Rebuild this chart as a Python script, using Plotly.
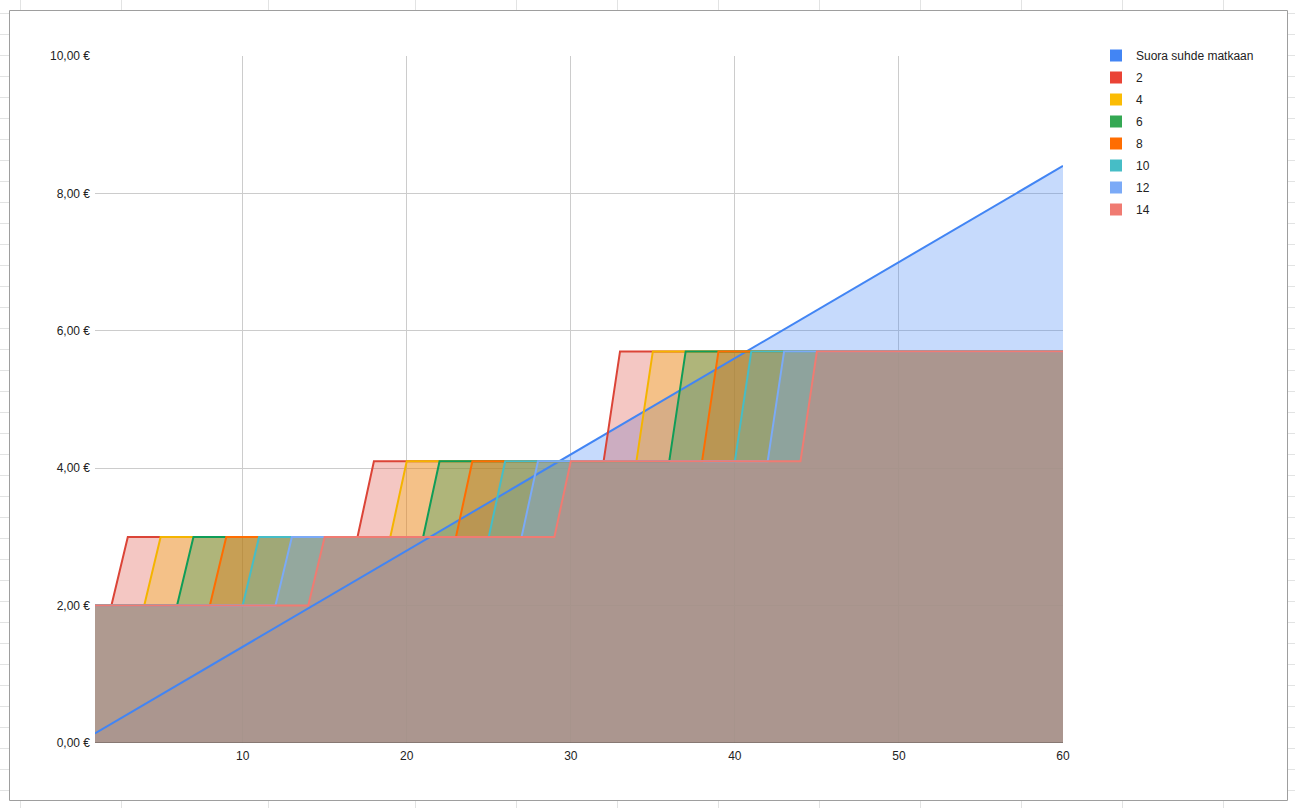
import plotly.graph_objects as go

# ---------------- data ----------------
km = list(range(1, 61))

suora = [0.14, 0.28, 0.42, 0.56, 0.70, 0.84, 0.98, 1.12, 1.26, 1.40,
         1.54, 1.68, 1.82, 1.96, 2.10, 2.24, 2.38, 2.52, 2.66, 2.80,
         2.94, 3.08, 3.22, 3.36, 3.50, 3.64, 3.78, 3.92, 4.06, 4.20,
         4.34, 4.48, 4.62, 4.76, 4.90, 5.04, 5.18, 5.32, 5.46, 5.60,
         5.74, 5.88, 6.02, 6.16, 6.30, 6.44, 6.58, 6.72, 6.86, 7.00,
         7.14, 7.28, 7.42, 7.56, 7.70, 7.84, 7.98, 8.12, 8.26, 8.40]

s2 = [2, 2, 3, 3, 3, 3, 3, 3, 3, 3,
      3, 3, 3, 3, 3, 3, 3, 4.1, 4.1, 4.1,
      4.1, 4.1, 4.1, 4.1, 4.1, 4.1, 4.1, 4.1, 4.1, 4.1,
      4.1, 4.1, 5.7, 5.7, 5.7, 5.7, 5.7, 5.7, 5.7, 5.7,
      5.7, 5.7, 5.7, 5.7, 5.7, 5.7, 5.7, 5.7, 5.7, 5.7,
      5.7, 5.7, 5.7, 5.7, 5.7, 5.7, 5.7, 5.7, 5.7, 5.7]

s4 = [2, 2, 2, 2, 3, 3, 3, 3, 3, 3,
      3, 3, 3, 3, 3, 3, 3, 3, 3, 4.1,
      4.1, 4.1, 4.1, 4.1, 4.1, 4.1, 4.1, 4.1, 4.1, 4.1,
      4.1, 4.1, 4.1, 4.1, 5.7, 5.7, 5.7, 5.7, 5.7, 5.7,
      5.7, 5.7, 5.7, 5.7, 5.7, 5.7, 5.7, 5.7, 5.7, 5.7,
      5.7, 5.7, 5.7, 5.7, 5.7, 5.7, 5.7, 5.7, 5.7, 5.7]

s6 = [2, 2, 2, 2, 2, 2, 3, 3, 3, 3,
      3, 3, 3, 3, 3, 3, 3, 3, 3, 3,
      3, 4.1, 4.1, 4.1, 4.1, 4.1, 4.1, 4.1, 4.1, 4.1,
      4.1, 4.1, 4.1, 4.1, 4.1, 4.1, 5.7, 5.7, 5.7, 5.7,
      5.7, 5.7, 5.7, 5.7, 5.7, 5.7, 5.7, 5.7, 5.7, 5.7,
      5.7, 5.7, 5.7, 5.7, 5.7, 5.7, 5.7, 5.7, 5.7, 5.7]

s8 = [2, 2, 2, 2, 2, 2, 2, 2, 3, 3,
      3, 3, 3, 3, 3, 3, 3, 3, 3, 3,
      3, 3, 3, 4.1, 4.1, 4.1, 4.1, 4.1, 4.1, 4.1,
      4.1, 4.1, 4.1, 4.1, 4.1, 4.1, 4.1, 4.1, 5.7, 5.7,
      5.7, 5.7, 5.7, 5.7, 5.7, 5.7, 5.7, 5.7, 5.7, 5.7,
      5.7, 5.7, 5.7, 5.7, 5.7, 5.7, 5.7, 5.7, 5.7, 5.7]

s10 = [2, 2, 2, 2, 2, 2, 2, 2, 2, 2,
       3, 3, 3, 3, 3, 3, 3, 3, 3, 3,
       3, 3, 3, 3, 3, 4.1, 4.1, 4.1, 4.1, 4.1,
       4.1, 4.1, 4.1, 4.1, 4.1, 4.1, 4.1, 4.1, 4.1, 4.1,
       5.7, 5.7, 5.7, 5.7, 5.7, 5.7, 5.7, 5.7, 5.7, 5.7,
       5.7, 5.7, 5.7, 5.7, 5.7, 5.7, 5.7, 5.7, 5.7, 5.7]

s12 = [2, 2, 2, 2, 2, 2, 2, 2, 2, 2,
       2, 2, 3, 3, 3, 3, 3, 3, 3, 3,
       3, 3, 3, 3, 3, 3, 3, 4.1, 4.1, 4.1,
       4.1, 4.1, 4.1, 4.1, 4.1, 4.1, 4.1, 4.1, 4.1, 4.1,
       4.1, 4.1, 5.7, 5.7, 5.7, 5.7, 5.7, 5.7, 5.7, 5.7,
       5.7, 5.7, 5.7, 5.7, 5.7, 5.7, 5.7, 5.7, 5.7, 5.7]

s14 = [2, 2, 2, 2, 2, 2, 2, 2, 2, 2,
       2, 2, 2, 2, 3, 3, 3, 3, 3, 3,
       3, 3, 3, 3, 3, 3, 3, 3, 3, 4.1,
       4.1, 4.1, 4.1, 4.1, 4.1, 4.1, 4.1, 4.1, 4.1, 4.1,
       4.1, 4.1, 4.1, 4.1, 5.7, 5.7, 5.7, 5.7, 5.7, 5.7,
       5.7, 5.7, 5.7, 5.7, 5.7, 5.7, 5.7, 5.7, 5.7, 5.7]

series_names = ["Suora suhde matkaan", "2", "4", "6", "8", "10", "12", "14"]
series_values = [suora, s2, s4, s6, s8, s10, s12, s14]

y_tickvals = [0, 2, 4, 6, 8, 10]
y_ticktext = ["0,00 €", "2,00 €", "4,00 €", "6,00 €", "8,00 €", "10,00 €"]
x_tickvals = [10, 20, 30, 40, 50, 60]
x_ticktext = ["10", "20", "30", "40", "50", "60"]

# ---------------- style ----------------
colors = ["#4285F4", "#DB4437", "#F4B400", "#0F9D58",
          "#FF6D01", "#46BDC6", "#7BAAF7", "#F07B72"]
legend_colors = ["#4285F4", "#EA4335", "#FBBC04", "#34A853",
                 "#FF6D01", "#46BDC6", "#7BAAF7", "#F07B72"]


def rgba(hex_color, a):
    h = hex_color.lstrip("#")
    r, g, b = int(h[0:2], 16), int(h[2:4], 16), int(h[4:6], 16)
    return f"rgba({r},{g},{b},{a})"


W, H = 1295, 808
ML, MR, MT, MB = 95, 232, 56, 65
PW, PH = W - ML - MR, H - MT - MB
FONT = "Arial, Liberation Sans, sans-serif"
TXT = "#222222"


def px_x(p):
    return (p - ML) / PW


def px_y(p):
    return (H - MB - p) / PH


fig = go.Figure()

# fills first (all), then lines on top
for name, vals, c in zip(series_names, series_values, colors):
    fig.add_trace(go.Scatter(
        x=km, y=vals, mode="lines", fill="tozeroy",
        fillcolor=rgba(c, 0.3), line=dict(width=0, color=c),
        showlegend=False, hoverinfo="skip"))

for name, vals, c in zip(series_names, series_values, colors):
    fig.add_trace(go.Scatter(
        x=km, y=vals, mode="lines", name=name,
        line=dict(width=2, color=c),
        showlegend=False))

for i, (name, c) in enumerate(zip(series_names, legend_colors)):
    fig.add_trace(go.Scatter(
        x=[None], y=[None], mode="markers", name=name,
        legendgroup=f"g{i}",
        marker=dict(symbol="square", size=12, color=c),
        showlegend=True))

# ---------------- background (spreadsheet + chart frame) ----------------
shapes = []
grid_c = "#e2e3e3"
for k in range(38):
    yy = 13.5 + 21 * k
    shapes.append(dict(type="line", xref="paper", yref="paper",
                       x0=px_x(0), x1=px_x(W), y0=px_y(yy), y1=px_y(yy),
                       line=dict(color=grid_c, width=1), layer="below"))
for xx in [20, 121, 268, 415, 516, 617, 718, 819, 920, 1021, 1122, 1223]:
    shapes.append(dict(type="line", xref="paper", yref="paper",
                       x0=px_x(xx + 0.5), x1=px_x(xx + 0.5), y0=px_y(0), y1=px_y(H),
                       line=dict(color=grid_c, width=1), layer="below"))
shapes.append(dict(type="rect", xref="paper", yref="paper",
                   x0=px_x(9.5), x1=px_x(1287.5), y0=px_y(10.5), y1=px_y(800.5),
                   fillcolor="white", line=dict(color="#9e9e9e", width=1),
                   layer="below"))
# baseline on top of the areas
shapes.append(dict(type="line", xref="x", yref="y", x0=1, x1=60, y0=0, y1=0,
                   line=dict(color="rgba(51,51,51,0.6)", width=1), layer="above"))

fig.update_layout(
    width=W, height=H,
    margin=dict(l=ML, r=MR, t=MT, b=MB, pad=0),
    paper_bgcolor="white", plot_bgcolor="rgba(0,0,0,0)",
    font=dict(family=FONT, size=12, color=TXT),
    shapes=shapes,
    showlegend=True,
    legend=dict(x=px_x(1096), y=px_y(41), xanchor="left", yanchor="top",
                font=dict(family=FONT, size=12, color=TXT),
                tracegroupgap=3, bgcolor="rgba(0,0,0,0)"),
    xaxis=dict(range=[1, 60], tickvals=x_tickvals, ticktext=x_ticktext,
               showgrid=True, gridcolor="#cccccc", gridwidth=1,
               zeroline=False, showline=False, ticks="",
               ticklabelstandoff=4,
               tickfont=dict(family=FONT, size=12, color=TXT)),
    yaxis=dict(range=[0, 10], tickvals=y_tickvals, ticktext=y_ticktext,
               showgrid=True, gridcolor="#cccccc", gridwidth=1,
               zeroline=False, showline=False, ticks="",
               ticklabelstandoff=4,
               tickfont=dict(family=FONT, size=12, color=TXT)),
    hovermode=False,
)

fig.write_html("out.html",
               config={"displayModeBar": False},
               post_script="document.body.style.margin='0';document.body.style.overflow='hidden';")
